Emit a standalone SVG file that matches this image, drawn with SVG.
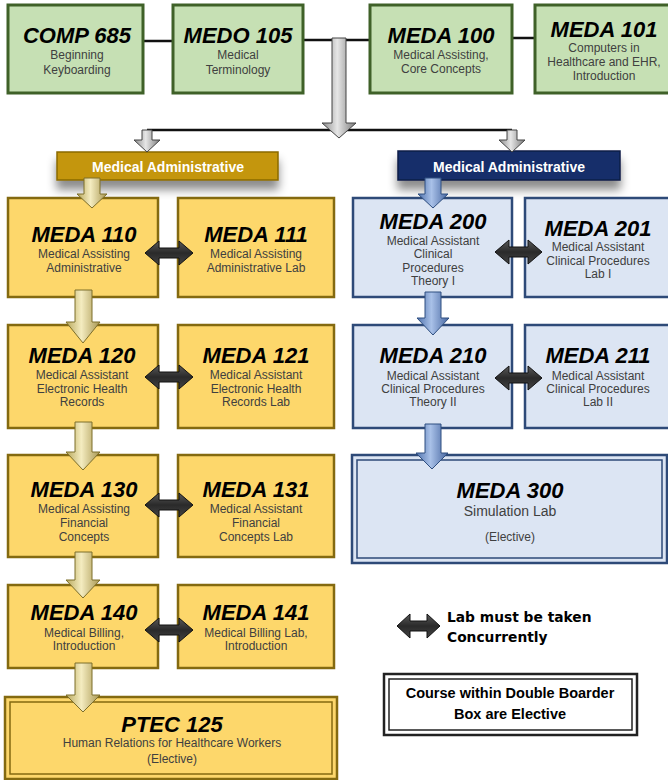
<svg xmlns="http://www.w3.org/2000/svg" width="668" height="780" viewBox="0 0 668 780">
<defs>
<style>
.t{font-family:"Liberation Sans",Arial,sans-serif;font-weight:bold;font-style:italic;font-size:22px;fill:#000;text-anchor:middle}
.s{font-family:"Liberation Sans",Arial,sans-serif;font-size:12px;fill:#404040;text-anchor:middle}
.g{fill:#c6e0b4;stroke:#3f6128;stroke-width:3}
.y{fill:#fdd76b;stroke:#846a10;stroke-width:2.5}
.b{fill:#dce5f3;stroke:#2e4a78;stroke-width:2.5}
.ban{font-family:"Liberation Sans",Arial,sans-serif;font-weight:bold;font-size:14px;fill:#fff;text-anchor:middle}
.ln{stroke:#111;stroke-width:2.5;fill:none}
.ga{fill:url(#gold);stroke:#7d6e2a;stroke-width:1}
.ba{fill:url(#blue);stroke:#2f4f80;stroke-width:1}
.gr{fill:url(#grey);stroke:#444;stroke-width:1}
.da{fill:url(#dark);stroke:#111;stroke-width:1}
.leg{font-family:"DejaVu Sans",sans-serif;font-weight:bold;font-size:13.8px;fill:#000}
.leg2{font-family:"Liberation Sans",Arial,sans-serif;font-weight:bold;font-size:14.5px;fill:#000;text-anchor:middle}
</style>
<linearGradient id="gold" x1="0" y1="0" x2="1" y2="0"><stop offset="0" stop-color="#b8a85c"/><stop offset="0.45" stop-color="#f4ecc0"/><stop offset="1" stop-color="#a89650"/></linearGradient>
<linearGradient id="blue" x1="0" y1="0" x2="1" y2="0"><stop offset="0" stop-color="#4f72ad"/><stop offset="0.45" stop-color="#a9c1e8"/><stop offset="1" stop-color="#4565a0"/></linearGradient>
<linearGradient id="grey" x1="0" y1="0" x2="1" y2="0"><stop offset="0" stop-color="#8a8a8a"/><stop offset="0.45" stop-color="#e6e6e6"/><stop offset="1" stop-color="#7a7a7a"/></linearGradient>
<linearGradient id="dark" x1="0" y1="0" x2="0" y2="1"><stop offset="0" stop-color="#5a5a5a"/><stop offset="0.5" stop-color="#2a2a2a"/><stop offset="1" stop-color="#444"/></linearGradient>
<filter id="sh" x="-20%" y="-50%" width="140%" height="220%"><feDropShadow dx="0" dy="9" stdDeviation="5" flood-color="#000" flood-opacity="0.45"/></filter>
</defs>
<rect width="668" height="780" fill="#fff"/>

<g id="connectors-lines">
<path class="ln" d="M143,41 H173 M303,40 H370 M512,38 H535 M147,130 H512"/>
</g>

<g id="comp685"><rect class="g" x="8" y="5" width="135" height="88"/><text class="t" x="77" y="43">COMP 685</text><text class="s" x="77" y="59">Beginning</text><text class="s" x="77" y="74">Keyboarding</text></g>
<g id="medo105"><rect class="g" x="173" y="5" width="130" height="88"/><text class="t" x="238" y="43">MEDO 105</text><text class="s" x="238" y="59">Medical</text><text class="s" x="238" y="74">Terminology</text></g>
<g id="meda100"><rect class="g" x="370" y="5" width="142" height="88"/><text class="t" x="441" y="43">MEDA 100</text><text class="s" x="441" y="59">Medical Assisting,</text><text class="s" x="441" y="73">Core Concepts</text></g>
<g id="meda101"><rect class="g" x="535" y="5" width="140" height="88"/><text class="t" x="604" y="37">MEDA 101</text><text class="s" x="604" y="52">Computers in</text><text class="s" x="604" y="66">Healthcare and EHR,</text><text class="s" x="604" y="80">Introduction</text></g>

<g id="banner-admin"><rect x="57" y="152" width="221" height="28" fill="#c4960c" stroke="#8a6a05" stroke-width="1.5" filter="url(#sh)"/><text class="ban" x="168" y="172">Medical Administrative</text></g>
<g id="banner-clinical"><rect x="398" y="151" width="222" height="29" fill="#162f6a" stroke="#0c1d48" stroke-width="1.5" filter="url(#sh)"/><text class="ban" x="509" y="172">Medical Administrative</text></g>

<g id="meda110"><rect class="y" x="8" y="198" width="150" height="99"/><text class="t" x="84" y="242">MEDA 110</text><text class="s" x="84" y="258">Medical Assisting</text><text class="s" x="84" y="272">Administrative</text></g>
<g id="meda111"><rect class="y" x="178" y="198" width="156" height="99"/><text class="t" x="256" y="242">MEDA 111</text><text class="s" x="256" y="258">Medical Assisting</text><text class="s" x="256" y="272">Administrative Lab</text></g>
<g id="meda120"><rect class="y" x="8" y="325" width="150" height="103"/><text class="t" x="82" y="363">MEDA 120</text><text class="s" x="82" y="379">Medical Assistant</text><text class="s" x="82" y="393">Electronic Health</text><text class="s" x="82" y="406">Records</text></g>
<g id="meda121"><rect class="y" x="178" y="325" width="156" height="103"/><text class="t" x="256" y="363">MEDA 121</text><text class="s" x="256" y="379">Medical Assistant</text><text class="s" x="256" y="393">Electronic Health</text><text class="s" x="256" y="406">Records Lab</text></g>
<g id="meda130"><rect class="y" x="8" y="455" width="150" height="102"/><text class="t" x="84" y="497">MEDA 130</text><text class="s" x="84" y="513">Medical Assisting</text><text class="s" x="84" y="527">Financial</text><text class="s" x="84" y="541">Concepts</text></g>
<g id="meda131"><rect class="y" x="178" y="455" width="156" height="102"/><text class="t" x="256" y="497">MEDA 131</text><text class="s" x="256" y="513">Medical Assistant</text><text class="s" x="256" y="527">Financial</text><text class="s" x="256" y="541">Concepts Lab</text></g>
<g id="meda140"><rect class="y" x="8" y="585" width="150" height="83"/><text class="t" x="84" y="620">MEDA 140</text><text class="s" x="84" y="637">Medical Billing,</text><text class="s" x="84" y="650">Introduction</text></g>
<g id="meda141"><rect class="y" x="178" y="585" width="156" height="83"/><text class="t" x="256" y="620">MEDA 141</text><text class="s" x="256" y="637">Medical Billing Lab,</text><text class="s" x="256" y="650">Introduction</text></g>
<g id="ptec125"><rect class="y" x="5" y="697" width="332" height="82"/><rect x="10" y="702" width="322" height="72" fill="none" stroke="#846a10" stroke-width="1.5"/><text class="t" x="172" y="732">PTEC 125</text><text class="s" x="172" y="747">Human Relations for Healthcare Workers</text><text class="s" x="172" y="763">(Elective)</text></g>

<g id="meda200"><rect class="b" x="353" y="198" width="159" height="99"/><text class="t" x="433" y="229">MEDA 200</text><text class="s" x="433" y="245">Medical Assistant</text><text class="s" x="433" y="258">Clinical</text><text class="s" x="433" y="272">Procedures</text><text class="s" x="433" y="285">Theory I</text></g>
<g id="meda201"><rect class="b" x="525" y="198" width="150" height="99"/><text class="t" x="598" y="236">MEDA 201</text><text class="s" x="598" y="251">Medical Assistant</text><text class="s" x="598" y="265">Clinical Procedures</text><text class="s" x="598" y="278">Lab I</text></g>
<g id="meda210"><rect class="b" x="353" y="325" width="159" height="103"/><text class="t" x="433" y="363">MEDA 210</text><text class="s" x="433" y="380">Medical Assistant</text><text class="s" x="433" y="393">Clinical Procedures</text><text class="s" x="433" y="406">Theory II</text></g>
<g id="meda211"><rect class="b" x="525" y="325" width="150" height="103"/><text class="t" x="598" y="363">MEDA 211</text><text class="s" x="598" y="380">Medical Assistant</text><text class="s" x="598" y="393">Clinical Procedures</text><text class="s" x="598" y="406">Lab II</text></g>
<g id="meda300"><rect class="b" x="352" y="455" width="315" height="108"/><rect x="357" y="460" width="305" height="98" fill="none" stroke="#2e4a78" stroke-width="1.5"/><text class="t" x="510" y="498">MEDA 300</text><text class="s" x="510" y="516" style="font-size:14px">Simulation Lab</text><text class="s" x="510" y="541">(Elective)</text></g>

<g id="connectors">
<path class="gr" d="M332,38 H346 V123 H356 L339,138 L322,123 H332 Z"/>
<path class="gr" d="M142,130 H152 V140 H160 L147,152 L134,140 H142 Z"/>
<path class="gr" d="M507,130 H517 V140 H525 L512,152 L499,140 H507 Z"/>
<path class="ga" d="M84,178 H100 V194 H107 L92,208 L77,194 H84 Z"/>
<path class="ba" d="M425,178 H441 V194 H448 L433,208 L418,194 H425 Z"/>
<path class="ga" d="M75,290 H92 V322 H100 L83,343 L66,322 H75 Z"/>
<path class="ga" d="M75,422 H92 V452 H100 L83,470 L66,452 H75 Z"/>
<path class="ga" d="M75,552 H92 V580 H100 L83,598 L66,580 H75 Z"/>
<path class="ga" d="M75,663 H92 V695 H100 L83,712 L66,695 H75 Z"/>
<path class="ba" d="M425,292 H441 V318 H449 L433,335 L417,318 H425 Z"/>
<path class="ba" d="M425,424 H441 V453 H448 L432,469 L416,453 H425 Z"/>
<path class="da" d="M145,253 L159,241 V248 H179 V241 L193,253 L179,265 V258 H159 V265 Z"/>
<path class="da" d="M145,377 L159,365 V372 H179 V365 L193,377 L179,389 V382 H159 V389 Z"/>
<path class="da" d="M145,505 L159,493 V500 H179 V493 L193,505 L179,517 V510 H159 V517 Z"/>
<path class="da" d="M145,630 L159,618 V625 H179 V618 L193,630 L179,642 V635 H159 V642 Z"/>
<path class="da" d="M495,252 L509,240 V247 H528 V240 L542,252 L528,264 V257 H509 V264 Z"/>
<path class="da" d="M495,378 L509,366 V373 H528 V366 L542,378 L528,390 V383 H509 V390 Z"/>
</g>

<g id="legend-lab">
<path class="da" d="M397,626 L410,614 V621 H427 V614 L440,626 L427,638 V631 H410 V638 Z"/>
<text class="leg" x="447" y="622">Lab must be taken</text>
<text class="leg" x="447" y="642">Concurrently</text>
</g>
<g id="legend-elective">
<rect x="384" y="674" width="253" height="61" fill="#fff" stroke="#222" stroke-width="2.5"/>
<rect x="389" y="679" width="243" height="51" fill="none" stroke="#222" stroke-width="1.5"/>
<text class="leg2" x="510" y="698">Course within Double Boarder</text>
<text class="leg2" x="510" y="719">Box are Elective</text>
</g>
</svg>
